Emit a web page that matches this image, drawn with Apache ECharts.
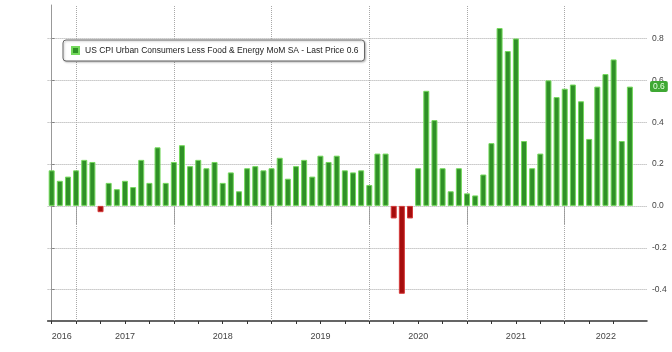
<!DOCTYPE html>
<html>
<head>
<meta charset="utf-8">
<script src="https://cdn.jsdelivr.net/npm/echarts@6/dist/echarts.min.js"></script>
<style>
  html, body { margin: 0; padding: 0; background: #fff; }
  #chart { width: 672px; height: 352px; }
</style>
</head>
<body>
<div id="chart"></div>
<script>
// monthly data, Sep 2016 - Aug 2022
const months = [
  '2016-09', '2016-10', '2016-11', '2016-12',
  '2017-01', '2017-02', '2017-03', '2017-04', '2017-05', '2017-06', '2017-07', '2017-08', '2017-09', '2017-10', '2017-11', '2017-12',
  '2018-01', '2018-02', '2018-03', '2018-04', '2018-05', '2018-06', '2018-07', '2018-08', '2018-09', '2018-10', '2018-11', '2018-12',
  '2019-01', '2019-02', '2019-03', '2019-04', '2019-05', '2019-06', '2019-07', '2019-08', '2019-09', '2019-10', '2019-11', '2019-12',
  '2020-01', '2020-02', '2020-03', '2020-04', '2020-05', '2020-06', '2020-07', '2020-08', '2020-09', '2020-10', '2020-11', '2020-12',
  '2021-01', '2021-02', '2021-03', '2021-04', '2021-05', '2021-06', '2021-07', '2021-08', '2021-09', '2021-10', '2021-11', '2021-12',
  '2022-01', '2022-02', '2022-03', '2022-04', '2022-05', '2022-06', '2022-07', '2022-08'
];
const coreCpiMoM = [
  0.17, 0.12, 0.14, 0.17,
  0.22, 0.21, -0.03, 0.11, 0.08, 0.12, 0.09, 0.22, 0.11, 0.28, 0.11, 0.21,
  0.29, 0.19, 0.22, 0.18, 0.21, 0.11, 0.16, 0.07, 0.18, 0.19, 0.17, 0.18,
  0.23, 0.13, 0.19, 0.22, 0.14, 0.24, 0.21, 0.24, 0.17, 0.16, 0.17, 0.10,
  0.25, 0.25, -0.06, -0.42, -0.06, 0.18, 0.55, 0.41, 0.18, 0.07, 0.18, 0.06,
  0.05, 0.15, 0.30, 0.85, 0.74, 0.80, 0.31, 0.18, 0.25, 0.60, 0.52, 0.56,
  0.58, 0.50, 0.32, 0.57, 0.63, 0.70, 0.31, 0.57
];
const yTicks = [-0.4, -0.2, 0.0, 0.2, 0.4, 0.6, 0.8];
const seriesName = 'US CPI Urban Consumers Less Food & Energy MoM SA - Last Price 0.6';
const lastPriceLabel = '0.6';

const xMin = -0.5, xMax = 73.1;

// ticks: quarter ends small, year ends (Dec) long
const decIdx = [], quarterIdx = [];
months.forEach(function (m, i) {
    const mo = +m.slice(5);
    if (mo === 12) decIdx.push(i);
    if (mo % 3 === 0) quarterIdx.push(i);
});

// year label in the middle of the visible part of each year
const years = Array.from(new Set(months.map(m => m.slice(0, 4))));
const bounds = [xMin].concat(decIdx, [xMax]);
const yearPos = [], yearByPos = {};
years.forEach(function (y, k) {
    const p = (bounds[k] + bounds[k + 1]) / 2;
    yearPos.push(p);
    yearByPos[p.toFixed(2)] = y;
});

const barData = coreCpiMoM.map(function (v, i) {
    const d = { value: [i, v] };
    if (v < 0) d.itemStyle = { color: '#a50d0d', borderColor: '#d53a3a' };
    return d;
});

const gridLine = { type: 'dotted', color: '#a8a8a8', width: 1 };
const gridMarks = yTicks.map(v => ({ yAxis: v }))
    .concat(decIdx.map(i => ({ xAxis: i })));

const chart = echarts.init(document.getElementById('chart'));
chart.setOption({
    animation: false,
    textStyle: { fontFamily: 'Liberation Sans' },
    grid: { left: 47.6, right: 25, top: 5, bottom: 31, containLabel: false },
    legend: {
        data: [seriesName],
        left: 63, top: 40,
        icon: 'rect', itemWidth: 7, itemHeight: 7, itemGap: 4,
        padding: [6, 6, 6, 8],
        backgroundColor: '#fff',
        borderColor: '#666', borderWidth: 1, borderRadius: 3,
        shadowColor: 'rgba(0,0,0,0.25)', shadowBlur: 2, shadowOffsetX: 1, shadowOffsetY: 1,
        textStyle: { fontSize: 8.5, color: '#222', padding: [0, 0, 0, 1] }
    },
    xAxis: [{
        type: 'value', min: xMin, max: xMax, position: 'bottom',
        splitLine: { show: false },
        axisLine: { show: true, onZero: false, lineStyle: { color: '#333', width: 1.5 } },
        axisTick: { show: true, customValues: quarterIdx, length: 3, lineStyle: { color: '#333' } },
        axisLabel: {
            customValues: yearPos, margin: 11, fontSize: 9, color: '#444',
            formatter: v => yearByPos[v.toFixed(2)] || ''
        }
    }, {
        type: 'value', min: xMin, max: xMax, position: 'bottom',
        splitLine: { show: false },
        axisLine: { show: false },
        axisTick: { show: true, customValues: decIdx, length: 19, lineStyle: { color: '#999', width: 1 } },
        axisLabel: { show: false }
    }],
    yAxis: {
        type: 'value', min: -0.55, max: 0.96, position: 'right',
        splitLine: { show: false },
        axisLine: { show: true, lineStyle: { color: '#999', width: 1 } },
        axisTick: { show: true, customValues: yTicks, length: 3, lineStyle: { color: '#666' } },
        axisLabel: {
            customValues: yTicks, margin: 5, fontSize: 8.5, color: '#444',
            formatter: v => v.toFixed(1)
        }
    },
    series: [{
        type: 'line', data: [], z: 1, silent: true,
        markLine: {
            silent: true, symbol: 'none', animation: false, z: 1,
            label: { show: false },
            lineStyle: gridLine,
            data: gridMarks
        }
    }, {
        name: seriesName,
        type: 'bar', xAxisIndex: 0, z: 10,
        barWidth: 6,
        data: barData,
        itemStyle: { color: '#2f9027', borderColor: '#74d95c', borderWidth: 1 },
        // last price tag on the right axis
        markLine: {
            silent: true, symbol: 'none', animation: false, z: 20,
            lineStyle: { color: 'transparent', width: 0 },
            label: {
                show: true, position: 'end', distance: 3,
                formatter: lastPriceLabel,
                backgroundColor: '#3fa834', color: '#eaffe4',
                padding: [1, 3], borderRadius: 2,
                fontSize: 8.5, fontFamily: 'Liberation Sans'
            },
            data: [{ yAxis: coreCpiMoM[coreCpiMoM.length - 1] }]
        }
    }]
});
</script>
</body>
</html>
